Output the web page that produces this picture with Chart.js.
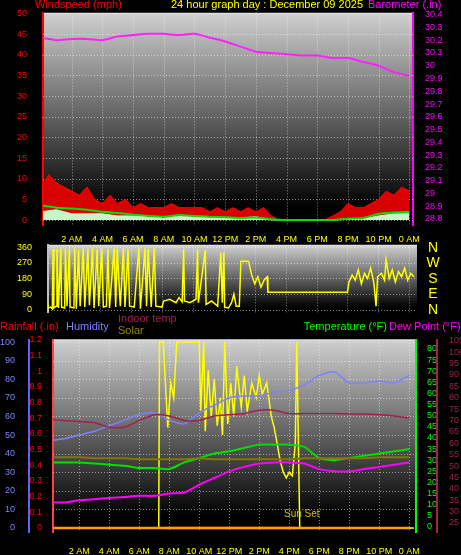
<!DOCTYPE html>
<html><head><meta charset="utf-8">
<script src="https://cdn.jsdelivr.net/npm/chart.js@4"></script>
<style>
body{margin:0;background:#000;width:461px;height:555px;overflow:hidden;position:relative}
canvas{position:absolute;left:0}
</style></head><body>
<canvas id="c3" width="461" height="240" style="top:315px"></canvas>
<canvas id="c2" width="461" height="94" style="top:232px"></canvas>
<canvas id="c1" width="461" height="245" style="top:0"></canvas>
<script>
// ---------- DATA ----------
const hours = [0,1,2,3,4,5,6,7,8,9,10,11,12,13,14,15,16,17,18,19,20,21,22,23,24];
const halfHours = [0,0.5,1,1.5,2,2.5,3,3.5,4,4.5,5,5.5,6,6.5,7,7.5,8,8.5,9,9.5,10,10.5,11,11.5,12,12.5,13,13.5,14,14.5,15,15.5,16,16.5,17,17.5,18,18.5,19,19.5,20,20.5,21,21.5,22,22.5,23,23.5,24];
const windGust = [8,11,9,8,7,6,8,5,4,6,4,5,3,4,3,3,3,4,3,3,3,3,2,3,2,3,2,3,2,3,1,0,0,0,0,0,0,0,1,2,4,3,3,4,5,7,6,8,7];
const windAvg = [3.5,3,2.8,2.5,2,1.7,1.3,1,0.8,1.2,1,0.8,0.7,0.5,0.6,0.2,0,0,0,0,0.3,0.5,1.5,1.8,2];
const windSpeed = [2,2.5,1.5,1.5,1.5,1,1,1,0.5,1,0.8,0.5,0.5,0.5,0.8,0,0,0,0,0,0.3,0.3,1,1.5,1.5];
const barometer = [30.22,30.2,30.21,30.21,30.2,30.23,30.24,30.25,30.25,30.24,30.25,30.22,30.19,30.15,30.11,30.1,30.09,30.08,30.08,30.06,30.06,30.03,30.0,29.95,29.92];
const dirT = [0.6,0.65,0.8,0.9,0.95,1.0,1.15,1.2,1.3,1.45,1.5,1.7,1.75,1.85,2.0,2.05,2.3,2.35,2.45,2.6,2.7,2.9,3.0,3.2,3.3,3.5,3.6,3.8,3.9,4.1,4.2,4.4,4.5,4.6,4.9,5.0,5.1,5.3,5.5,5.6,5.8,5.9,6.2,6.5,6.6,6.9,7.0,7.1,7.3,7.5,7.6,8.0,8.1,8.5,8.9,9.1,9.3,9.4,9.45,9.8,10.2,10.3,10.35,10.8,10.85,11.2,11.6,11.8,11.9,12.0,12.05,12.3,12.5,12.65,12.8,13.0,13.1,13.6,13.8,14.0,14.2,14.4,14.6,14.8,14.85,20.0,20.1,20.3,20.5,20.7,20.9,21.1,21.3,21.5,21.7,21.85,21.95,22.2,22.4,22.5,22.7,22.9,23.1,23.3,23.5,23.7,23.9,24.1,24.3];
const dirV = [40,10,15,5,350,10,20,350,10,355,15,10,355,20,350,15,10,355,5,345,20,355,15,350,25,355,10,350,20,355,15,20,350,10,355,15,350,20,355,15,350,20,15,355,5,355,20,350,15,355,20,15,50,60,40,70,45,350,50,40,60,350,40,345,30,50,20,330,40,330,15,10,40,90,20,20,280,280,200,150,190,130,170,190,100,100,160,200,170,230,150,210,180,240,160,20,190,210,170,290,180,230,160,220,190,240,170,210,190];
const humidity = [47,48,50,52,55,58,61,62,58,56,62,66,70,71,71,73,74,77,82,84,78,78,79,78,82];
const temperature = [29,29,29,28.5,28,27.5,26.5,26.5,26,29,31,33,34,35.5,37,37,37,36,31,30,31,32,33,34,35];
const dewPoint = [11,11,12,12.5,13,13.5,14,14,15,15.5,19,22,25,27,28.5,29,29,28.5,26,25,25,26,27,28,29];
const indoorTemp = [70.5,70,69.5,69,67,67,70,72.5,72,70,70,72,72.5,73,74.5,74.5,73,73,73,73,72.8,72.8,72.5,72,71];
const solarFlat = [38,38,38,37.5,37.5,37.5,37,37,37,37,37.5,37,37,37,37,37,37,37.5,37.5,37.5,37.5,37.5,38,38,38];
const solarT = [0.3,7.3,7.35,7.6,7.9,8.1,8.3,8.5,10.0,10.1,10.3,10.4,10.6,10.8,11.0,11.2,11.4,11.55,11.7,11.9,12.1,12.3,12.5,12.8,13.0,13.2,13.5,13.8,14.0,14.2,14.5,14.8,15.0,15.2,15.4,15.6,15.8,16.0,16.2,16.4,16.5,16.7,24.3];
const solarV = [0,0,100,100,54,78,70,100,100,63,100,52,85,60,80,55,70,50,100,56,78,60,87,65,82,63,78,70,82,72,78,60,54,45,36,30,27,30,28,45,100,0,0];
const rainfall = [0,0,0,0,0,0,0,0,0,0,0,0,0,0,0,0,0,0,0,0,0,0,0,0,0];
const rainDayT = [7.5,16.5];
const rainDayV = [0,0];
const baroTicks = [28.8,28.9,29,29.1,29.2,29.3,29.4,29.5,29.6,29.7,29.8,29.9,30,30.1,30.2,30.3,30.4];
const windTicks = [0,5,10,15,20,25,30,35,40,45,50];
const dirTicks = [0,90,180,270,360];
const dirLetters = ['N','E','S','W','N'];
const humTicks = [0,10,20,30,40,50,60,70,80,90,100];
const rainTicks = [0,0.1,0.2,0.3,0.4,0.5,0.6,0.7,0.8,0.9,1,1.1,1.2];
const tempTicks = [0,5,10,15,20,25,30,35,40,45,50,55,60,65,70,75,80];
const inTicks = [25,30,35,40,45,50,55,60,65,70,75,80,85,90,95,100,105];
const timeTicks = [2,4,6,8,10,12,14,16,18,20,22,24];

// ---------- HELPERS ----------
const FONT = 'Liberation Sans, Arial, sans-serif';
const zip = (t,v)=>t.map((x,i)=>({x, y:v[i]}));
const setTicks = arr => s => { s.ticks = arr.map(v=>({value:v})); };
const fitW = w => s => { s.width = w; };
const fitH = h => s => { s.height = h; };
const timeLabel = v => { const h = v % 24; if (h===0) return '0 AM'; if (h<12) return h+' AM'; if (h===12) return '12 PM'; return (h-12)+' PM'; };
const bgPlugin = {
  id:'bg',
  beforeDraw(c){
    const {ctx, chartArea:a} = c;
    const g = ctx.createLinearGradient(0,a.top,0,a.bottom);
    g.addColorStop(0,'#cfcfcf'); g.addColorStop(0.45,'#6a6a6a'); g.addColorStop(0.92,'#000'); g.addColorStop(1,'#000');
    ctx.save(); ctx.fillStyle = g; ctx.fillRect(a.left,a.top,a.right-a.left,a.bottom-a.top);
    ctx.strokeStyle='#e0e0e0'; ctx.lineWidth=1.5;
    ctx.beginPath(); ctx.moveTo(a.left,a.bottom); ctx.lineTo(a.left,a.top); ctx.lineTo(a.right,a.top); ctx.stroke();
    ctx.restore();
  },
  beforeDatasetsDraw(c){
    const {ctx, chartArea:a} = c;
    ctx.save(); ctx.setLineDash([1,2]); ctx.strokeStyle='rgba(255,255,255,0.5)'; ctx.lineWidth=1;
    const gs = c.options.plugins.bg;
    const xs = c.scales.x, ys = c.scales[gs.yid];
    timeTicks.forEach(t=>{ const px=Math.round(xs.getPixelForValue(t))+0.5; if(px<a.right){ctx.beginPath();ctx.moveTo(px,a.top);ctx.lineTo(px,a.bottom);ctx.stroke();}});
    gs.yticks.forEach(v=>{ const py=Math.round(ys.getPixelForValue(v))+0.5; if(py>a.top+1){ctx.beginPath();ctx.moveTo(a.left,py);ctx.lineTo(a.right,py);ctx.stroke();}});
    ctx.restore();
  }
};
const textPlugin = items => ({
  id:'txt',
  afterDraw(c){
    const ctx=c.ctx; ctx.save();
    items.forEach(it=>{ ctx.font=(it.size||11)+'px '+FONT; ctx.fillStyle=it.color; ctx.textAlign=it.align||'left'; ctx.textBaseline='top'; ctx.fillText(it.text,it.x,it.y); });
    ctx.restore();
  }
});
const dirLetterPlugin = {
  id:'dirl',
  afterDraw(c){
    const ctx=c.ctx, ys=c.scales.yd; ctx.save();
    ctx.font='14px '+FONT; ctx.fillStyle='#ffff00'; ctx.textAlign='center'; ctx.textBaseline='middle';
    dirTicks.forEach((v,i)=>{ ctx.fillText(dirLetters[i],433,ys.getPixelForValue(v)+0.5); });
    ctx.restore();
  }
};
const tickFont = {family:FONT, size:9};
const yt = (color,extra)=>Object.assign({color,font:tickFont,autoSkip:false,padding:4},extra||{});
const lineDs = (data,color,yAxisID,extra) => Object.assign({data,borderColor:color,borderWidth:1.5,pointRadius:0,yAxisID,tension:0.2,fill:false},extra||{});
const baseOpts = {animation:false, responsive:false, devicePixelRatio:1, events:[], parsing:false, normalized:true};

// ---------- TOP: wind + barometer ----------
new Chart(document.getElementById('c1'), {
  type:'line',
  data:{datasets:[
    lineDs(zip(hours,barometer),'#ff20ff','yb',{borderWidth:2}),
    lineDs(zip(hours,windAvg),'#00e000','yw',{borderWidth:2}),
    lineDs(zip(hours,windSpeed),'#c8f4c8','yw',{fill:'origin',backgroundColor:'#c8f4c8',borderWidth:1,tension:0}),
    lineDs(zip(halfHours,windGust),'#ff0000','yw',{fill:'origin',backgroundColor:'rgba(240,0,0,0.9)',tension:0,borderWidth:1})
  ]},
  options:Object.assign({}, baseOpts, {
    layout:{padding:{top:12,left:0,right:0,bottom:0}},
    plugins:{legend:{display:false},tooltip:{enabled:false},bg:{yid:'yw',yticks:windTicks}},
    scales:{
      x:{type:'linear',min:0.13,max:24.24,afterBuildTicks:setTicks(timeTicks),afterFit:fitH(20),grid:{display:false},border:{display:false},
         ticks:{color:'#ffff00',font:tickFont,callback:timeLabel,maxRotation:0,autoSkip:false,padding:1}},
      yw:{position:'left',min:-1.2,max:50,afterBuildTicks:setTicks(windTicks),afterFit:fitW(43),grid:{display:false},border:{color:'#ff0000',width:2},
         ticks:yt('#ff0000',{padding:8})},
      yb:{position:'right',min:28.753,max:30.41,afterBuildTicks:setTicks(baroTicks),afterFit:fitW(48),grid:{display:false},border:{color:'#ff00ff',width:2},
         ticks:yt('#ff00ff',{callback:v=>String(Math.round(v*10)/10)})}
    }
  }),
  plugins:[bgPlugin, textPlugin([
    {text:'Windspeed (mph)',x:35,y:-1,color:'#ff0000'},
    {text:'24 hour graph day : December 09 2025',x:171,y:-1,color:'#ffff00'},
    {text:'Barometer (.in)',x:368,y:-1,color:'#ff00ff'}
  ])]
});

// ---------- MIDDLE: wind direction ----------
new Chart(document.getElementById('c2'), {
  type:'line',
  data:{datasets:[ lineDs(zip(dirT,dirV),'#ffff00','yd',{tension:0,borderWidth:1.5}) ]},
  options:Object.assign({}, baseOpts, {
    layout:{padding:{top:4,bottom:0,right:44}},
    plugins:{legend:{display:false},tooltip:{enabled:false},bg:{yid:'yd',yticks:dirTicks}},
    scales:{
      x:{type:'linear',display:false,min:0.62,max:24.5},
      yd:{position:'left',min:-17,max:371,afterBuildTicks:setTicks(dirTicks),afterFit:fitW(48),grid:{display:false},border:{color:'#c0c0c0',width:2},
         ticks:yt('#ffff00',{padding:8})}
    }
  }),
  plugins:[bgPlugin, dirLetterPlugin]
});

// ---------- BOTTOM: temps, humidity, rain, solar ----------
new Chart(document.getElementById('c3'), {
  type:'line',
  data:{datasets:[
    lineDs(zip(hours,rainfall),'#ffa000','yrain',{borderWidth:2.5,tension:0}),
    lineDs(zip(rainDayT,rainDayV),'#ff0000','yrain',{borderWidth:2.5,tension:0}),
    lineDs(zip(hours,solarFlat),'#807800','ysol',{borderWidth:2,tension:0}),
    lineDs(zip(hours,indoorTemp),'#a02050','yin',{borderWidth:1.5}),
    lineDs(zip(hours,humidity),'#8080ff','yhum',{borderWidth:1.5}),
    lineDs(zip(hours,dewPoint),'#ff00ff','ytemp',{borderWidth:2}),
    lineDs(zip(hours,temperature),'#00e000','ytemp',{borderWidth:2}),
    lineDs(zip(solarT,solarV),'#ffff00','ysol',{borderWidth:1.5,tension:0})
  ]},
  options:Object.assign({}, baseOpts, {
    layout:{padding:{top:25}},
    plugins:{legend:{display:false},tooltip:{enabled:false},bg:{yid:'yhum',yticks:humTicks}},
    scales:{
      x:{type:'linear',min:0.25,max:24.45,afterBuildTicks:setTicks(timeTicks),afterFit:fitH(23),grid:{display:false},border:{display:false},
         ticks:{color:'#ffff00',font:tickFont,callback:timeLabel,maxRotation:0,autoSkip:false,padding:6}},
      yrain:{position:'left',weight:0,min:-0.0255,max:1.2,afterBuildTicks:setTicks(rainTicks),afterFit:fitW(24),grid:{display:false},border:{color:'#ff4040',width:2,dash:[2,1]},
         ticks:yt('#ff0000',{padding:3,callback:v=>String(Math.round(v*10)/10)})},
      yhum:{position:'left',weight:1,min:-2.15,max:101.1,afterBuildTicks:setTicks(humTicks),afterFit:fitW(29),grid:{display:false},border:{color:'#6060ff',width:2},
         ticks:yt('#8080ff',{padding:6})},
      ysol:{display:false,min:-2.15,max:101.1},
      ytemp:{position:'right',weight:0,min:-2.25,max:84,afterBuildTicks:setTicks(tempTicks),afterFit:fitW(21),grid:{display:false},border:{color:'#00ff00',width:2},
         ticks:yt('#00ff00',{padding:3})},
      yin:{position:'right',weight:1,min:21.05,max:105.3,afterBuildTicks:setTicks(inTicks),afterFit:fitW(24),grid:{display:false},border:{color:'#a02050',width:2},
         ticks:yt('#a02050',{padding:4})}
    }
  }),
  plugins:[bgPlugin, textPlugin([
    {text:'Rainfall (.in)',x:0,y:6,color:'#ff0000'},
    {text:'Humidity',x:66,y:6,color:'#8080ff'},
    {text:'Indoor temp',x:118,y:-2,color:'#a02050'},
    {text:'Solar',x:118,y:10,color:'#908800'},
    {text:'Temperature (°F)',x:387,y:6,color:'#00ff00',align:'right'},
    {text:'Dew Point (°F)',x:389,y:6,color:'#ff00ff'},
    {text:'Sun Set',x:284,y:194,color:'#c8c000',size:10}
  ])]
});
</script>
</body></html>
